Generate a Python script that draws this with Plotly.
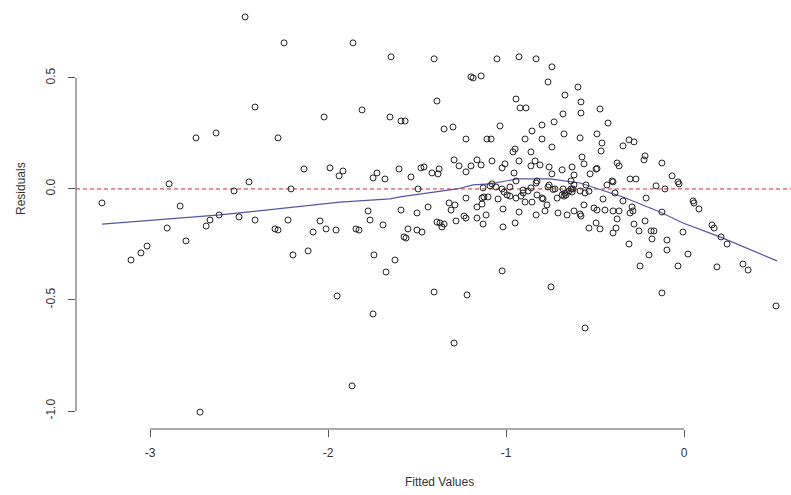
import plotly.graph_objects as go

# Fitted values (x) and residuals (y)
fitted = [
    -3.270, -3.107, -3.051, -3.017, -2.904, -2.893, -2.831, -2.798, -2.742, -2.629,
    -2.685, -2.663, -2.612, -2.719, -2.466, -2.247, -2.410, -2.022, -2.281, -2.135,
    -1.989, -1.938, -2.444, -2.528, -2.208, -2.500, -2.410, -2.298, -2.281, -2.225,
    -2.045, -2.084, -2.011, -1.955, -2.197, -2.112, -1.949, -1.809, -1.652, -1.590,
    -1.567, -1.916, -1.725, -1.747, -1.680, -1.601, -1.843, -1.826, -1.775, -1.764,
    -1.691, -1.590, -1.742, -1.624, -1.674, -1.747, -1.865, -1.860, -1.646, -1.404,
    -1.051, -0.927, -0.831, -0.742, -0.764, -1.197, -1.185, -1.140, -1.388, -0.944,
    -0.921, -0.888, -0.730, -0.798, -0.854, -1.034, -1.348, -1.298, -1.225, -1.107,
    -1.084, -0.893, -0.798, -0.742, -0.949, -0.961, -0.860, -1.534, -1.478, -1.461,
    -1.416, -1.382, -1.376, -1.292, -1.264, -1.225, -1.197, -1.163, -1.140, -1.079,
    -1.022, -1.006, -0.955, -0.927, -0.860, -0.837, -0.809, -0.758, -0.742, -1.494,
    -1.129, -1.090, -1.056, -1.022, -1.011, -0.978, -0.944, -0.904, -0.860, -0.831,
    -0.764, -0.725, -0.876, -0.826, -0.758, -0.736, -0.680, -0.669, -0.663, -0.635,
    -0.629, -0.624, -0.618, -0.584, -0.551, -0.556, -1.135, -1.124, -1.101, -1.225,
    -1.045, -0.994, -0.978, -0.944, -0.916, -0.904, -0.893, -0.854, -0.826, -0.798,
    -0.792, -0.770, -0.713, -0.685, -0.674, -1.500, -1.438, -1.320, -1.287, -1.309,
    -1.163, -1.135, -1.112, -1.017, -0.927, -0.831, -0.781, -0.708, -0.657, -0.618,
    -0.584, -0.579, -0.562, -0.534, -1.388, -1.371, -1.360, -1.348, -1.281, -1.236,
    -1.225, -1.163, -1.129, -1.017, -0.949, -1.551, -1.500, -1.472, -1.573, -1.562,
    -1.022, -1.404, -1.219, -0.747, -1.292, -0.596, -0.669, -0.579, -0.579, -0.680,
    -0.674, -0.584, -0.573, -0.562, -0.629, -0.685, -0.618, -0.472, -0.427, -0.489,
    -0.461, -0.309, -0.281, -0.343, -0.466, -0.219, -0.225, -0.376, -0.365, -0.124,
    -0.528, -0.494, -0.489, -0.067, -0.303, -0.270, -0.404, -0.399, -0.034, -0.028,
    -0.635, -0.433, -0.157, -0.107, -0.646, -0.455, -0.388, -0.343, -0.213, -0.292,
    -0.287, -0.303, 0.051, 0.056, 0.084, -0.124, -0.506, -0.489, -0.444, -0.399,
    -0.365, -0.376, -0.281, -0.219, -0.494, -0.472, -0.399, -0.382, -0.253, -0.185,
    -0.169, -0.180, -0.006, 0.157, 0.169, 0.208, -0.309, -0.096, 0.242, -0.096,
    -0.197, 0.022, -0.247, -0.034, 0.185, 0.331, 0.360, -0.124, 0.517, -0.556,
    -1.079, -0.534,
]
residuals = [
    -0.063, -0.320, -0.288, -0.257, -0.176, 0.023, -0.077, -0.234, 0.230, 0.252,
    -0.167, -0.140, -0.117, -1.005, 0.775, 0.658, 0.369, 0.324, 0.230, 0.090,
    0.095, 0.059, 0.032, -0.009, 0.000, -0.126, -0.140, -0.180, -0.185, -0.140,
    -0.144, -0.194, -0.180, -0.185, -0.297, -0.279, -0.482, 0.356, 0.324, 0.306,
    0.306, 0.081, 0.072, 0.050, 0.045, 0.090, -0.180, -0.185, -0.099, -0.140,
    -0.162, -0.095, -0.297, -0.320, -0.374, -0.563, -0.887, 0.658, 0.595, 0.586,
    0.586, 0.595, 0.586, 0.550, 0.482, 0.505, 0.500, 0.509, 0.396, 0.405,
    0.365, 0.365, 0.302, 0.288, 0.261, 0.284, 0.270, 0.279, 0.225, 0.225,
    0.225, 0.225, 0.225, 0.189, 0.180, 0.167, 0.167, 0.054, 0.095, 0.099,
    0.072, 0.068, 0.090, 0.131, 0.104, 0.077, 0.104, 0.131, 0.108, 0.126,
    0.095, 0.113, 0.072, 0.126, 0.104, 0.126, 0.108, 0.099, 0.068, 0.000,
    0.005, 0.014, 0.009, 0.000, -0.014, 0.009, 0.036, -0.005, 0.005, 0.027,
    0.009, 0.000, -0.009, 0.036, 0.018, -0.002, 0.000, -0.018, -0.027, 0.000,
    -0.014, 0.000, 0.018, -0.009, 0.018, -0.018, -0.041, -0.036, -0.036, -0.041,
    -0.045, -0.027, -0.032, -0.041, -0.032, -0.018, -0.059, -0.059, -0.027, -0.041,
    -0.045, -0.072, -0.041, -0.027, -0.032, -0.108, -0.081, -0.063, -0.072, -0.095,
    -0.081, -0.068, -0.117, -0.090, -0.104, -0.117, -0.099, -0.108, -0.117, -0.099,
    -0.113, -0.122, -0.072, -0.176, -0.149, -0.153, -0.171, -0.158, -0.144, -0.122,
    -0.131, -0.131, -0.158, -0.171, -0.153, -0.180, -0.185, -0.194, -0.216, -0.221,
    -0.369, -0.464, -0.477, -0.441, -0.694, 0.459, 0.423, 0.392, 0.342, 0.338,
    0.248, 0.230, 0.144, 0.113, 0.099, 0.086, 0.063, 0.360, 0.297, 0.248,
    0.207, 0.221, 0.212, 0.194, 0.171, 0.149, 0.131, 0.117, 0.104, 0.117,
    0.068, 0.090, 0.092, 0.059, 0.045, 0.045, 0.036, 0.032, 0.032, 0.023,
    0.036, 0.018, 0.014, 0.000, -0.009, -0.045, -0.018, -0.054, -0.041, -0.081,
    -0.099, -0.108, -0.054, -0.063, -0.090, -0.104, -0.086, -0.095, -0.095, -0.099,
    -0.099, -0.135, -0.158, -0.144, -0.153, -0.180, -0.198, -0.176, -0.189, -0.189,
    -0.189, -0.225, -0.194, -0.162, -0.176, -0.216, -0.248, -0.230, -0.248, -0.275,
    -0.297, -0.293, -0.347, -0.347, -0.351, -0.338, -0.365, -0.468, -0.527, -0.626,
    0.023, -0.010,
]

# Smoothed (lowess-type) trend line
smooth_x = [-3.270, -2.607, -1.933, -1.652, -1.596, -1.275, -1.185, -1.090, -0.938,
            -0.753, -0.584, -0.455, -0.343, -0.135, -0.006, 0.202, 0.522]
smooth_y = [-0.158, -0.117, -0.059, -0.045, -0.036, 0.000, 0.018, 0.023, 0.045,
            0.045, 0.027, -0.005, -0.036, -0.104, -0.153, -0.216, -0.324]

x_ticks = [-3, -2, -1, 0]
y_ticks = [-1.0, -0.5, 0.0, 0.5]
y_tick_labels = ["-1.0", "-0.5", "0.0", "0.5"]

font_family = "Liberation Sans, Arial, sans-serif"
text_color = "#333333"
axis_color = "#555555"

fig = go.Figure()

fig.add_trace(go.Scatter(
    x=smooth_x, y=smooth_y, mode="lines",
    line=dict(color="#5555a8", width=1.2),
    hoverinfo="skip", showlegend=False,
))

fig.add_trace(go.Scatter(
    x=fitted, y=residuals, mode="markers",
    marker=dict(symbol="circle-open", size=6, color="#222222", line=dict(width=1)),
    showlegend=False,
))

# reference line at zero residual
fig.add_hline(y=0, line=dict(color="#cc2a2a", width=1, dash="4px,3px"), layer="below")

# R-style axis lines spanning only the tick range
fig.add_shape(type="line", xref="x", yref="paper", x0=x_ticks[0], x1=x_ticks[-1],
              y0=0, y1=0, line=dict(color=axis_color, width=1))
fig.add_shape(type="line", xref="paper", yref="y", x0=0, x1=0,
              y0=y_ticks[0], y1=y_ticks[-1], line=dict(color=axis_color, width=1))

fig.update_layout(
    width=791, height=495,
    margin=dict(l=76, r=0, t=0, b=66),
    paper_bgcolor="white", plot_bgcolor="white",
    font=dict(family=font_family, size=12, color=text_color),
    xaxis=dict(
        range=[-3.416, 0.601], showgrid=False, zeroline=False, showline=False,
        tickmode="array", tickvals=x_ticks, ticktext=[str(v) for v in x_ticks],
        ticks="outside", ticklen=7, tickcolor=axis_color, tickwidth=1,
        ticklabelstandoff=6,
    ),
    yaxis=dict(
        range=[-1.081, 0.851], showgrid=False, zeroline=False, showline=False,
        tickmode="array", tickvals=y_ticks, ticktext=y_tick_labels,
        ticks="outside", ticklen=7, tickcolor=axis_color, tickwidth=1,
        tickangle=-90, ticklabelstandoff=8,
    ),
    annotations=[
        dict(text="Fitted Values", xref="paper", yref="paper", x=(439 - 76) / 715,
             y=-(482 - 429) / 429, xanchor="center", yanchor="middle",
             showarrow=False, font=dict(size=12, color=text_color)),
        dict(text="Residuals", xref="paper", yref="paper", x=-(76 - 21) / 715,
             y=(429 - 189) / 429, xanchor="center", yanchor="middle", textangle=-90,
             showarrow=False, font=dict(size=12, color=text_color)),
    ],
)

fig.write_html("out.html", config={"displayModeBar": False})

# remove the browser's default page margin so the figure sits at the top-left corner
with open("out.html", "r", encoding="utf-8") as f:
    html = f.read()
html = html.replace("<head>", "<head><style>html,body{margin:0;padding:0;}</style>", 1)
with open("out.html", "w", encoding="utf-8") as f:
    f.write(html)
